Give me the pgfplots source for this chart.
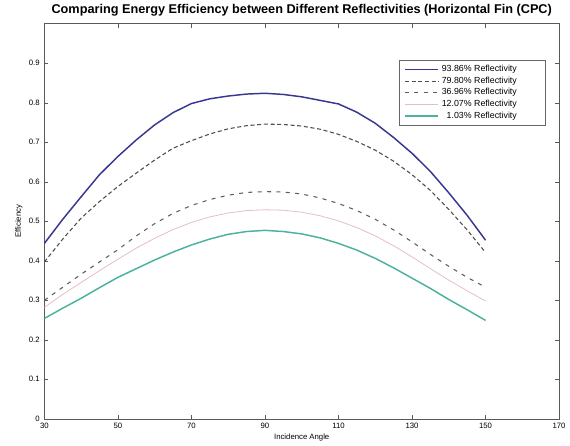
\documentclass[border={8pt 0pt 0pt 0pt}]{standalone}
\usepackage{fontspec}
\setmainfont{Liberation Sans}
\usepackage{pgfplots}
\pgfplotsset{compat=1.18}
\definecolor{refblue}{RGB}{55,55,145}
\definecolor{refdash}{RGB}{80,78,70}
\definecolor{refgrey}{RGB}{95,95,95}
\definecolor{refpink}{RGB}{228,190,196}
\definecolor{refteal}{RGB}{75,178,158}

\pgfplotstableread{
ang  r1    r2    r3    r4    r5
30   0.444 0.397 0.300 0.282 0.254
35   0.505 0.455 0.333 0.315 0.280
40   0.562 0.508 0.366 0.345 0.305
45   0.618 0.550 0.397 0.375 0.332
50   0.664 0.588 0.428 0.404 0.358
55   0.706 0.622 0.463 0.432 0.380
60   0.744 0.655 0.494 0.457 0.402
65   0.775 0.685 0.520 0.479 0.422
70   0.798 0.704 0.540 0.497 0.440
75   0.810 0.721 0.555 0.511 0.455
80   0.817 0.734 0.566 0.521 0.467
85   0.822 0.742 0.573 0.527 0.474
90   0.824 0.746 0.575 0.529 0.477
95   0.821 0.745 0.574 0.528 0.474
100  0.815 0.741 0.569 0.523 0.468
105  0.806 0.733 0.559 0.514 0.458
110  0.797 0.720 0.545 0.501 0.444
115  0.776 0.702 0.527 0.484 0.427
120  0.748 0.680 0.505 0.463 0.406
125  0.712 0.652 0.478 0.438 0.382
130  0.672 0.618 0.448 0.410 0.356
135  0.626 0.578 0.416 0.380 0.330
140  0.572 0.530 0.386 0.351 0.302
145  0.515 0.478 0.358 0.324 0.276
150  0.452 0.421 0.333 0.298 0.249
}\efftable

\newcommand{\legpad}{\hspace*{15pt}}

\begin{document}
\begin{tikzpicture}
\begin{axis}[
    width=385pt, height=295.5pt,
    scale only axis,
    xmin=30, xmax=170, ymin=0, ymax=1,
    xtick={30,50,...,170},
    ytick={0,0.1,...,0.9},
    yticklabels={0,0.1,0.2,0.3,0.4,0.5,0.6,0.7,0.8,0.9},
    tick align=inside,
    major tick length=3pt,
    axis line style={black!65},
    tick style={black!65},
    /pgf/number format/assume math mode=true,
    tick label style={font=\fontsize{5.8}{7}\selectfont},
    label style={font=\fontsize{5.8}{7}\selectfont},
    xlabel={Incidence Angle},
    ylabel={Efficiency},
    xlabel style={yshift=3pt},
    ylabel style={yshift=-2pt},
    title={Comparing Energy Efficiency between Different Reflectivities (Horizontal Fin (CPC)},
    title style={font=\fontsize{9.5}{10.5}\selectfont\bfseries, yshift=-4pt},
    legend style={at={(0.973,0.909)}, anchor=north east,
      font=\fontsize{6.6}{7.6}\selectfont, draw=black!60, fill=white,
      inner xsep=4pt, inner ysep=2pt, row sep=-1.6pt, cells={anchor=east}},
    legend cell align=right,
    legend image code/.code={\draw[#1] (0cm,0cm) -- (0.88cm,0cm);},
]
\addplot[refblue, line width=1.1pt] table[x=ang, y=r1] {\efftable};
\addlegendentry{93.86\% Reflectivity\legpad}
\addplot[refdash, line width=0.8pt, dash pattern=on 3pt off 2pt] table[x=ang, y=r2] {\efftable};
\addlegendentry{79.80\% Reflectivity\legpad}
\addplot[refgrey, line width=0.8pt, dash pattern=on 3pt off 4pt] table[x=ang, y=r3] {\efftable};
\addlegendentry{36.96\% Reflectivity\legpad}
\addplot[refpink, line width=0.6pt] table[x=ang, y=r4] {\efftable};
\addlegendentry{12.07\% Reflectivity\legpad}
\addplot[refteal, line width=1.1pt] table[x=ang, y=r5] {\efftable};
\addlegendentry{1.03\% Reflectivity\legpad}
\end{axis}
\end{tikzpicture}
\end{document}
